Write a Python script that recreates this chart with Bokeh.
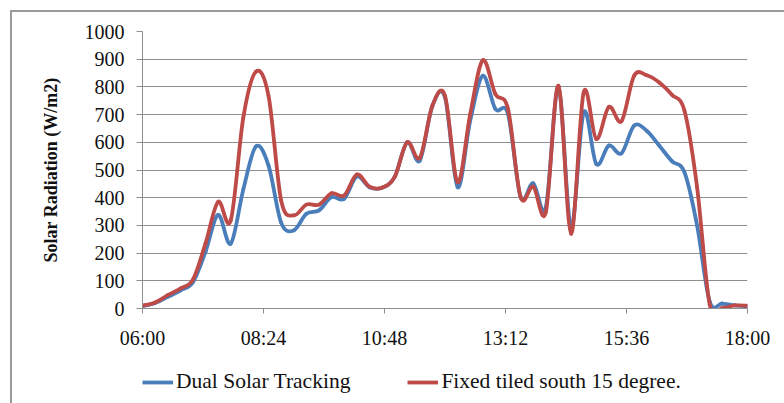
import numpy as np
from bokeh.plotting import figure
from bokeh.layouts import column
from bokeh.models import Range1d, FixedTicker, Legend, LegendItem, ColumnDataSource
from bokeh.embed import file_html
from bokeh.resources import INLINE

# ---- data ----
times = ["06:00", "06:15", "06:30", "06:45", "07:00", "07:15", "07:30", "07:45",
         "08:00", "08:15", "08:30", "08:45", "09:00", "09:15", "09:30", "09:45",
         "10:00", "10:15", "10:30", "10:45", "11:00", "11:15", "11:30", "11:45",
         "12:00", "12:15", "12:30", "12:45", "13:00", "13:15", "13:30", "13:45",
         "14:00", "14:15", "14:30", "14:45", "15:00", "15:15", "15:30", "15:45",
         "16:00", "16:15", "16:30", "16:45", "17:00", "17:15", "17:30", "17:45",
         "18:00"]

dual_tracking = [8, 20, 42, 65, 95, 205, 338, 234,
                 430, 585, 516, 310, 282, 342, 354, 402,
                 396, 476, 438, 436, 474, 600, 534, 732,
                 762, 438, 678, 840, 720, 702, 402, 452,
                 366, 798, 294, 708, 522, 588, 560, 660,
                 642, 588, 532, 492, 300, 25, 18, 11,
                 8]

fixed_south15 = [10, 22, 48, 72, 104, 235, 385, 318,
                 690, 855, 768, 390, 336, 375, 375, 416,
                 408, 484, 440, 436, 474, 600, 544, 732,
                 768, 456, 702, 896, 774, 720, 402, 440,
                 348, 804, 270, 780, 612, 728, 676, 840,
                 842, 816, 772, 714, 438, 15, 2, 11,
                 10]

x_tick_labels = ["06:00", "08:24", "10:48", "13:12", "15:36", "18:00"]
y_ticks = [0, 100, 200, 300, 400, 500, 600, 700, 800, 900, 1000]

series_names = ["Dual Solar Tracking", "Fixed tiled south 15 degree."]
series_colors = ["#4a7ebb", "#be4b48"]
series_values = [dual_tracking, fixed_south15]


def to_minutes(s):
    h, m = s.split(":")
    return int(h) * 60 + int(m)


x = np.array([to_minutes(t) for t in times], dtype=float)
x_ticks = [to_minutes(t) for t in x_tick_labels]


def smooth_source(xs, ys):
    """Bezier segments through the data points (Excel-style smoothed line)."""
    xs = np.asarray(xs, dtype=float)
    ys = np.asarray(ys, dtype=float)
    n = len(xs)
    xp = np.concatenate([[xs[0]], xs, [xs[-1]]])
    yp = np.concatenate([[ys[0]], ys, [ys[-1]]])
    return ColumnDataSource(dict(
        x0=xs[:-1], y0=ys[:-1], x1=xs[1:], y1=ys[1:],
        cx0=xs[:-1] + (xp[2:n + 1] - xp[0:n - 1]) / 6.0,
        cy0=ys[:-1] + (yp[2:n + 1] - yp[0:n - 1]) / 6.0,
        cx1=xs[1:] - (xp[3:n + 2] - xp[1:n]) / 6.0,
        cy1=ys[1:] - (yp[3:n + 2] - yp[1:n]) / 6.0,
    ))


FONT = "Liberation Serif"
GRID = "#8e8e8e"
FRAME = "#9a9a9a"
LINE_W = 3.8

# ---------------- main chart ----------------
p = figure(width=784, height=360,
           x_range=Range1d(x_ticks[0], x_ticks[-1]), y_range=Range1d(0, 1000),
           output_backend="svg", toolbar_location=None,
           min_border_left=142, min_border_right=37,
           min_border_top=31, min_border_bottom=52,
           styles={"background-color": "white",
                   "box-shadow": f"inset 10px 10px 0 0 white, inset 12px 12px 0 0 {FRAME}"})
p.outline_line_color = None
p.background_fill_color = "white"
p.border_fill_alpha = 0.0

p.xaxis.ticker = FixedTicker(ticks=x_ticks)
p.xaxis.major_label_overrides = {t: lab for t, lab in zip(x_ticks, x_tick_labels)}
p.yaxis.ticker = FixedTicker(ticks=y_ticks)
for ax in (p.xaxis[0], p.yaxis[0]):
    ax.axis_line_color = GRID
    ax.major_tick_line_color = GRID
    ax.minor_tick_line_color = None
    ax.major_tick_in = 0
    ax.major_label_text_font = FONT
    ax.major_label_text_font_size = "20px"
    ax.major_label_text_color = "#111111"
p.xaxis.major_tick_out = 5
p.yaxis.major_tick_out = 6
p.xaxis.major_label_standoff = 13
p.yaxis.major_label_standoff = 12
p.yaxis.axis_label = "Solar Radiation (W/m2)"
p.yaxis.axis_label_text_font = FONT
p.yaxis.axis_label_text_font_style = "bold"
p.yaxis.axis_label_text_font_size = "18px"
p.yaxis.axis_label_text_color = "#111111"
p.yaxis.axis_label_standoff = 21

p.xgrid.grid_line_color = None
p.ygrid.ticker = FixedTicker(ticks=y_ticks)
p.ygrid.grid_line_color = GRID
p.ygrid.grid_line_width = 1

for ys, col in zip(series_values, series_colors):
    p.bezier(x0="x0", y0="y0", x1="x1", y1="y1",
             cx0="cx0", cy0="cy0", cx1="cx1", cy1="cy1",
             source=smooth_source(x, ys),
             line_color=col, line_width=LINE_W, line_cap="round")

# ---------------- legend strip (below the chart) ----------------
# its frame is aligned with the main chart's frame by the column layout
pl = figure(width=784, height=43, x_range=Range1d(0, 1), y_range=Range1d(0, 1),
            output_backend="svg", toolbar_location=None,
            x_axis_type=None, y_axis_type=None,
            min_border_left=0, min_border_right=0, min_border_top=0, min_border_bottom=0,
            styles={"background-color": "white",
                    "box-shadow": f"inset 10px 0 0 0 white, inset 12px 0 0 0 {FRAME}"})
pl.outline_line_color = None
pl.background_fill_alpha = 0.0
pl.border_fill_alpha = 0.0
pl.grid.visible = False

# the series lines, outside this strip's ranges: only their legend glyphs show
legend_renderers = [pl.line(x=x, y=ys, line_color=col, line_width=LINE_W)
                    for ys, col in zip(series_values, series_colors)]

legend = Legend(items=[LegendItem(label=n, renderers=[r])
                       for n, r in zip(series_names, legend_renderers)],
                location=(0, 9), orientation="horizontal",
                border_line_color=None, background_fill_alpha=0,
                padding=0, margin=0, spacing=57, label_standoff=3,
                glyph_width=31, glyph_height=24, label_height=24,
                label_text_font=FONT, label_text_font_size="21.5px",
                label_text_color="#111111")
pl.add_layout(legend, "center")

layout = column(p, pl, spacing=0)
open("out.html", "w").write(file_html(layout, INLINE))
